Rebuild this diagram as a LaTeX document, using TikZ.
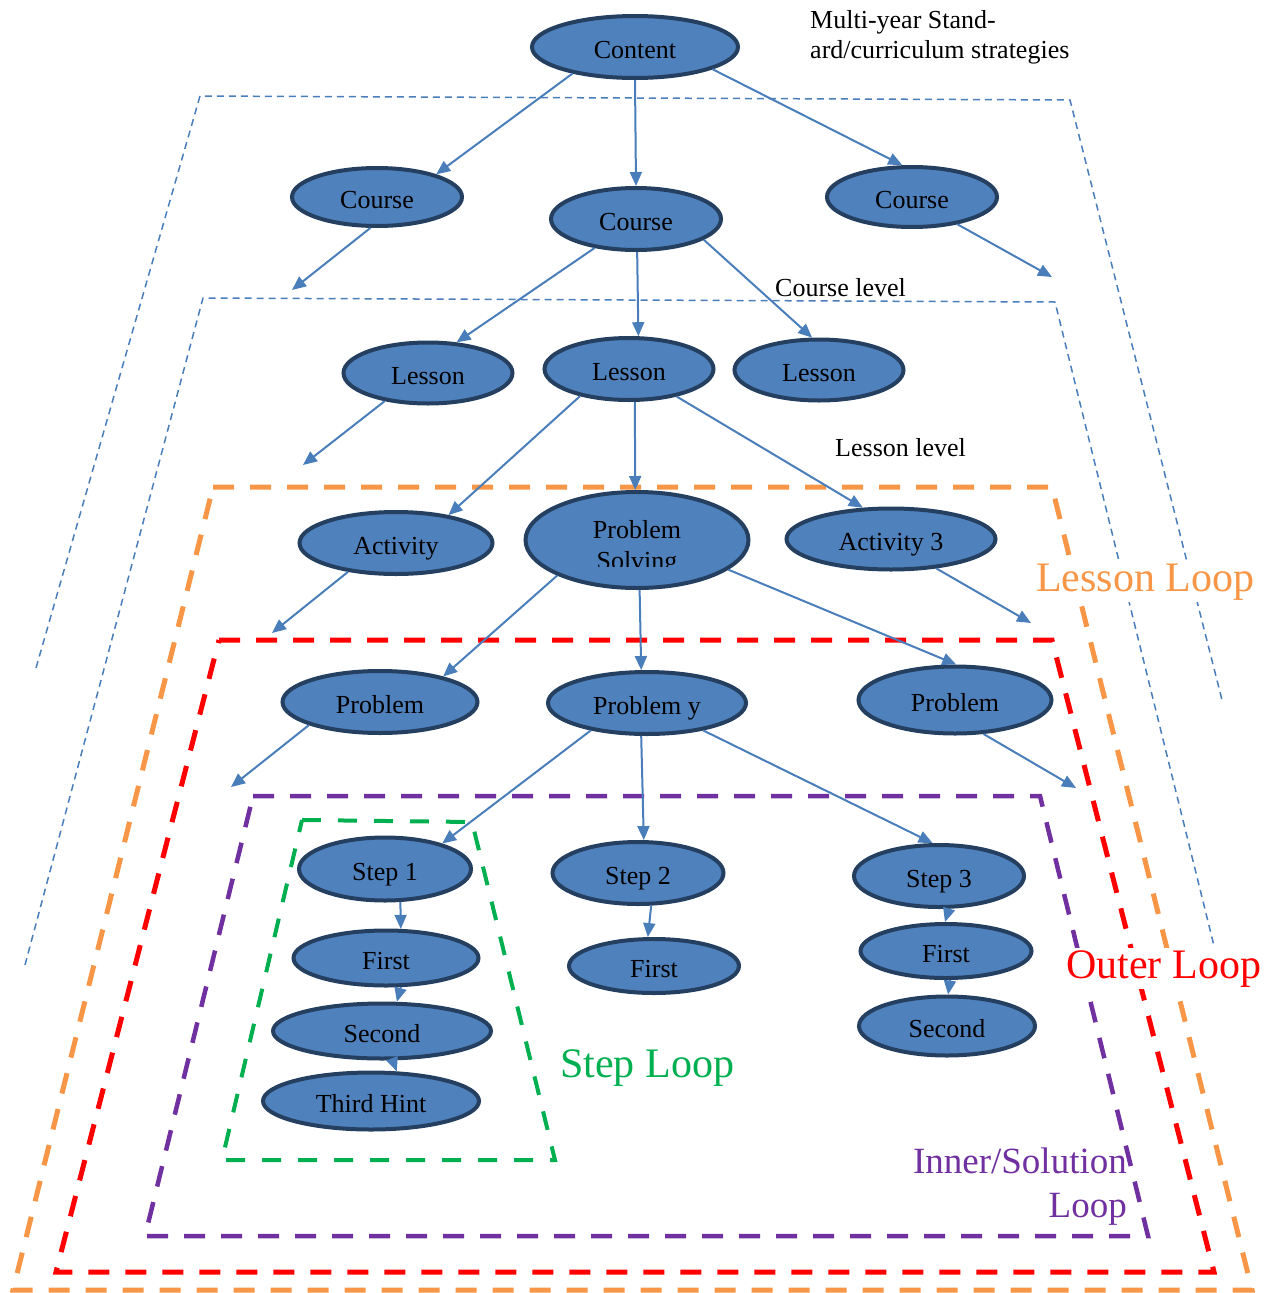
\documentclass[tikz,border=0pt]{standalone}
\usepackage{fontspec}
\setmainfont{Liberation Serif}
\usetikzlibrary{shapes.geometric,arrows.meta}
\definecolor{efill}{HTML}{4F81BD}
\definecolor{eline}{HTML}{243F60}
\definecolor{arr}{HTML}{4A7EBB}
\definecolor{lorange}{HTML}{F79646}
\definecolor{lred}{HTML}{FF0000}
\definecolor{lpurple}{HTML}{7030A0}
\definecolor{lgreen}{HTML}{00B050}
\begin{document}
\begin{tikzpicture}[x=1pt,y=-1pt,
  ebox/.style 2 args={ellipse,draw=eline,fill=efill,line width=4pt,inner sep=0pt,
     minimum width=#1pt,minimum height=#2pt,text height=26pt,text depth=3pt,
     font=\fontsize{26}{31}\selectfont},
  conn/.style={draw=arr,line width=2pt,-{Triangle[length=14pt,width=12pt]}},
  bluedash/.style={draw=arr,line width=1.5pt,dash pattern=on 7pt off 5pt},
  loopline/.style={line width=5pt,dash pattern=on 21pt off 16pt,line join=miter},
  lbl/.style={anchor=base west,inner sep=0pt,font=\fontsize{26}{30}\selectfont,align=left},
  looplbl/.style={anchor=base west,inner sep=2pt,fill=white,font=\fontsize{42}{46}\selectfont}]
\useasboundingbox (0,0) rectangle (1273,1293);

% layer outlines
\draw[bluedash] (36,668) -- (200,96) -- (1070,100) -- (1222,700);
\draw[bluedash] (25,965) -- (203,298) -- (1055,302) -- (1217,958);
\draw[loopline,draw=lorange] (213,487) -- (1052,487) -- (1252,1290) -- (13,1290) -- cycle;
\draw[loopline,draw=lred] (219,640) -- (1052,640) -- (1214,1272) -- (56,1272) -- cycle;
\draw[loopline,draw=lpurple,line width=4.5pt] (253,796) -- (1040,796) -- (1148,1236) -- (145,1236) -- cycle;
\draw[loopline,draw=lgreen,line width=4pt,dash pattern=on 19pt off 17pt] (302,820) -- (472,822) -- (555,1160) -- (222,1160) -- cycle;

% nodes
\node[ebox={206}{62}] (content) at (635,47) {Content};
\node[ebox={170}{58}] (courseL) at (377,197) {Course};
\node[ebox={170}{62}] (courseM) at (636,219) {Course};
\node[ebox={170}{60}] (courseR) at (912,197) {Course};
\node[ebox={169}{61}] (lessonL) at (428,373) {Lesson};
\node[ebox={169}{62}] (lessonM) at (629,369) {Lesson};
\node[ebox={169}{61}] (lessonR) at (819,370) {Lesson};
\node[ebox={193}{62}] (activity) at (396,543) {Activity};
\node[ebox={223}{96}] (ps) at (637,540) {};
\begin{scope}
  \clip (524,488) rectangle (752,566);
  \node[anchor=base,inner sep=0pt,align=center,font=\fontsize{26}{31}\selectfont] (pstext) at (637,569) {Problem\\Solving};
\end{scope}
\node[ebox={209}{61}] (activity3) at (891,539) {Activity 3};
\node[ebox={195}{62}] (problemL) at (380,702) {Problem};
\node[ebox={198}{62}] (problemY) at (647,703) {Problem y};
\node[ebox={193}{67}] (problemR) at (955,700) {Problem};
\node[ebox={172}{63}] (step1) at (385,869) {Step 1};
\node[ebox={171}{62}] (step2) at (638,873) {Step 2};
\node[ebox={170}{62}] (step3) at (939,876) {Step 3};
\node[ebox={185}{55}] (first1) at (386,958) {First};
\node[ebox={218}{55}] (second1) at (382,1031) {Second};
\node[ebox={216}{57}] (third1) at (371,1101) {Third Hint};
\node[ebox={170}{54}] (first2) at (654,966) {First};
\node[ebox={171}{54}] (first3) at (946,951) {First};
\node[ebox={176}{59}] (second3) at (947,1026) {Second};

% free ends
\coordinate (fCL) at (292,290);
\coordinate (fCR) at (1052,277);
\coordinate (fLL) at (303,465);
\coordinate (fA) at (272,633);
\coordinate (fA3) at (1031,623);
\coordinate (fPL) at (231,787);
\coordinate (fPR) at (1076,788);

% connectors
\draw[conn] (content.203) -- (courseL.21);
\draw[conn] (content.270) -- (courseM.90);
\draw[conn] (content.344) -- (courseR.107);
\draw[conn] (courseL.258) -- (fCL);
\draw[conn] (courseM.215) -- (lessonL.47);
\draw[conn] (courseM.272) -- (lessonM.74);
\draw[conn] (courseM.343) -- (lessonR.102);
\draw[conn] (courseR.329) -- (fCR);
\draw[conn] (lessonL.213) -- (fLL);
\draw[conn] (lessonM.209) -- (activity.28);
\draw[conn] (lessonM.280) -- (ps.92);
\draw[conn] (lessonM.330) -- (activity3.132);
\draw[conn] (activity.211) -- (fA);
\draw[conn] (ps.204) -- (problemL.22);
\draw[conn] (ps.273) -- (problemY.100);
\draw[conn] (ps.342) -- (problemR.88);
\draw[conn] (activity3.327) -- (fA3);
\draw[conn] (problemL.198) -- (fPL);
\draw[conn] (problemY.206) -- (step1.24);
\draw[conn] (problemY.260) -- (step2.80);
\draw[conn] (problemY.334) -- (step3.101);
\draw[conn] (problemR.310) -- (fPR);
\draw[conn] (step1.295) -- (first1.63);
\draw[conn] (first1.297) -- (second1.63);
\draw[conn] (second1.290) -- (third1.49);
\draw[conn] (step2.292) -- (first2.102);
\draw[conn] (step3.287) -- (first3.92);
\draw[conn] (first3.278) -- (second3.88);

% labels
\node[lbl] (multi) at (810,58) {Multi-year Stand-\\ard/curriculum strategies};
\node[lbl] (courselvl) at (775,296) {Course level};
\node[lbl] (lessonlvl) at (835,456) {Lesson level};
\node[looplbl,text=lorange] (lessonloop) at (1034,591) {Lesson Loop};
\node[looplbl,text=lred] (outerloop) at (1064,978) {Outer Loop};
\node[looplbl,text=lgreen,fill=none] (steploop) at (558,1077) {Step Loop};
\node[anchor=base east,inner sep=0pt,align=right,text=lpurple,font=\fontsize{37}{44}\selectfont] (innerloop) at (1127,1217) {Inner/Solution\\Loop};
\end{tikzpicture}
\end{document}
